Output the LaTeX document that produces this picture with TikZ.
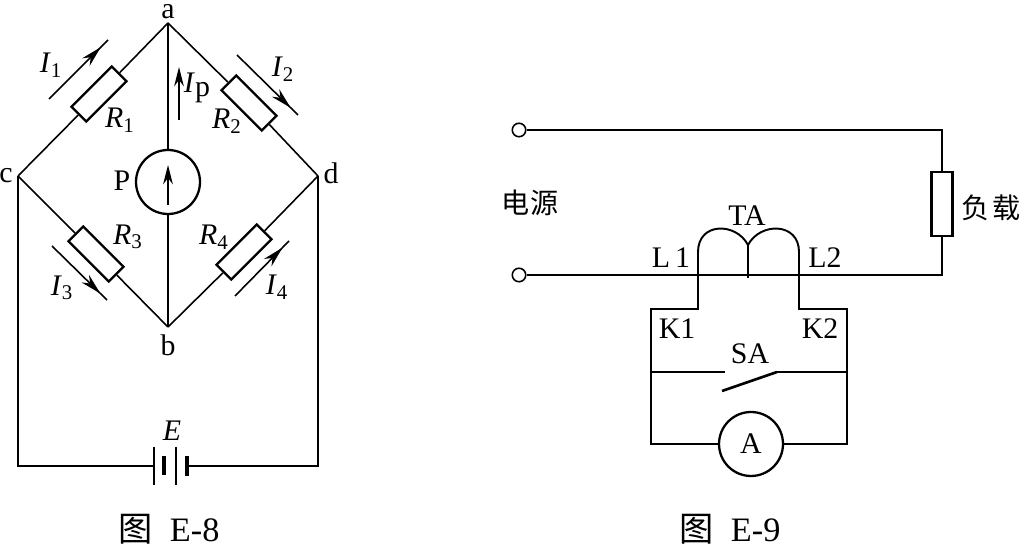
\documentclass[tikz,border=0pt]{standalone}
\usepackage{fontspec}
\setmainfont{Liberation Serif}
\newfontfamily\cjk{Noto Sans CJK SC}
\usetikzlibrary{arrows.meta,decorations.markings}
\newcommand{\labI}[2]{\textit{#1}\textsubscript{#2}}
\begin{document}
\begin{tikzpicture}[x=0.02cm, y=-0.02cm, line width=.9pt, font=\fontsize{17}{19}\selectfont]
      \tikzstyle{STYR} = [draw, rectangle, line width=1.3pt, minimum width=1.14cm, minimum height=.42cm, inner sep=0pt]
      \tikzstyle{STYL} = [draw, rectangle, line width=1.5pt, minimum width=.42cm, minimum height=1.28cm, inner sep=0pt]
      \tikzstyle{STYM} = [draw, circle, line width=1.3pt, minimum size=1.28cm, inner sep=0pt]
      \tikzstyle{STYT} = [draw, circle, line width=.9pt, minimum size=.27cm, inner sep=0pt]
      \tikzstyle{STY2} = [postaction={decorate}, decoration={markings, mark=at position .88 with {\arrow{Stealth[length=12pt, width=6pt]}}}]
      \tikzstyle{STY3} = [-{Stealth[length=11pt, width=5.5pt]}]
      \tikzstyle{STYC} = [inner sep=0pt, font=\cjk\fontsize{16}{20}\selectfont]
      \tikzstyle{STYE} = [inner sep=0pt, font=\fontsize{19.5}{22}\selectfont]
      \tikzstyle{STYN} = [inner sep=0pt]

      \useasboundingbox (0,0) rectangle (1020,546);

      %%%%% VERTEX (bridge)

      \coordinate (va) at (168,23);
      \coordinate (vc) at (18,176);
      \coordinate (vd) at (318,176);
      \coordinate (vb) at (168,327);

      \node[STYR, rotate=45](vR1) at (99,94) {};
      \node[STYR, rotate=-45](vR2) at (249,103) {};
      \node[STYR, rotate=-45](vR3) at (96,254) {};
      \node[STYR, rotate=45](vR4) at (244,252) {};
      \node[STYM](vP) at (168,182) {};

      \coordinate (vEl) at (154,466);
      \coordinate (vEr) at (187,466);

      \coordinate (vi1a) at (49,99);
      \coordinate (vi1b) at (108,40);
      \coordinate (vi2a) at (237,55);
      \coordinate (vi2b) at (298,115);
      \coordinate (vi3a) at (52,246);
      \coordinate (vi3b) at (107,300);
      \coordinate (vi4a) at (235,296);
      \coordinate (vi4b) at (289,241);
      \coordinate (vipa) at (179,120);
      \coordinate (vipb) at (179,67);
      \coordinate (vPa) at (168,205);
      \coordinate (vPb) at (168,165);

      %%%%% VERTEX (transformer)

      \node[STYT](vT1) at (519,130) {};
      \node[STYT](vT2) at (519,275) {};
      \node[STYL](vLoad) at (942,204) {};
      \node[STYM](vA) at (751,444) {A};

      \coordinate (vL1) at (698,275);
      \coordinate (vLm) at (748,278);
      \coordinate (vL2) at (799,275);
      \coordinate (vK1) at (698,309);
      \coordinate (vK2) at (799,309);
      \coordinate (vFl) at (651,309);
      \coordinate (vFr) at (847,309);
      \coordinate (vSl) at (651,372);
      \coordinate (vSr) at (847,372);
      \coordinate (vS1) at (725,372);
      \coordinate (vS2) at (777,372);
      \coordinate (vS3) at (722,391);
      \coordinate (vBl) at (942,275);

      %%%%% EDGES (bridge)

      \draw (va) -- (vR1) -- (vc);
      \draw (va) -- (vR2) -- (vd);
      \draw (vc) -- (vR3) -- (vb);
      \draw (vd) -- (vR4) -- (vb);
      \draw (va) -- (vP) -- (vb);
      \draw (vc) |- (vEl);
      \draw (vd) |- (vEr);

      \draw[STY2] (vi1a) -- (vi1b);
      \draw[STY2] (vi2a) -- (vi2b);
      \draw[STY2] (vi3a) -- (vi3b);
      \draw[STY2] (vi4a) -- (vi4b);
      \draw[STY3] (vipa) -- (vipb);
      \draw[STY3] (vPa) -- (vPb);

      % battery plates
      \draw (vEl) ++(0,-19) -- ++(0,38);
      \draw[line width=2pt] (164,456) -- (164,475);
      \draw (176,447) -- (176,485);
      \draw[line width=2.4pt] (vEr) ++(0,-10) -- ++(0,20);

      %%%%% EDGES (transformer)

      \draw (vT1) -| (vLoad);
      \draw (vLoad) -- (vBl) -- (vT2);
      \draw (vL1) -- (vK1) -- (vFl) -- (vSl) |- (vA);
      \draw (vL2) -- (vK2) -- (vFr) -- (vSr) |- (vA);
      \draw (vSl) -- (vS1);
      \draw (vSr) -- (vS2);
      \draw[line width=1.5pt] (vS2) -- (vS3);
      \draw[line width=1.1pt] (vL1) -- (698,252) .. controls (698,222) and (736,222) .. (748,245)
            .. controls (760,222) and (799,222) .. (799,252) -- (vL2);
      \draw[line width=1.1pt] (748,245) -- (vLm);

      %%%%% LABELS

      \node[STYN](la) at (168,12) {a};
      \node[STYN](lb) at (168,345) {b};
      \node[STYN](lc) at (6,176) {c};
      \node[STYN](ld) at (331,173) {d};
      \node[STYN](lP) at (122,181) {P};
      \node[STYN](lE) at (172,431) {\textit{E}};
      \node[STYN](lI1) at (51,65) {\labI{I}{1}};
      \node[STYN](lI2) at (283,69) {\labI{I}{2}};
      \node[STYN](lI3) at (62,288) {\labI{I}{3}};
      \node[STYN](lI4) at (277,287) {\labI{I}{4}};
      \node[STYN](lIp) at (197,88) {\textit{I}\raisebox{-2pt}{p}};
      \node[STYN](lR1) at (120,120) {\labI{R}{1}};
      \node[STYN](lR2) at (227,121) {\labI{R}{2}};
      \node[STYN](lR3) at (128,237) {\labI{R}{3}};
      \node[STYN](lR4) at (214,237) {\labI{R}{4}};

      \node[STYN](lTA) at (747,216) {TA};
      \node[STYN](lL1) at (671,258) {L\,1};
      \node[STYN](lL2) at (825,258) {L2};
      \node[STYN](lK1) at (677,329) {K1};
      \node[STYN](lK2) at (820,329) {K2};
      \node[STYN](lSA) at (750,354) {SA};

      \node[STYC](lSrc) at (530,203) {电源};
      \node[STYC](lLoad) at (991,208) {负\hspace{2pt}载};
      \node[STYE](lF8) at (169,529) {{\cjk 图}\ \ E-8};
      \node[STYE](lF9) at (730,529) {{\cjk 图}\ \ E-9};
\end{tikzpicture}
\end{document}
